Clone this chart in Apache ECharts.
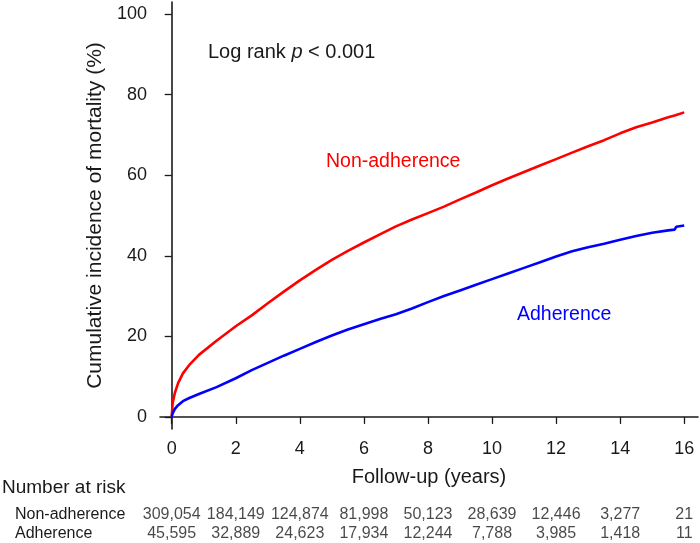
<!DOCTYPE html>
<html>
<head>
<meta charset="utf-8">
<script src="https://cdn.jsdelivr.net/npm/echarts@6/dist/echarts.min.js"></script>
<style>html,body{margin:0;padding:0;background:#fff}#c{width:700px;height:543px}</style>
</head>
<body>
<div id="c"></div>
<script>
// Follow-up time (years) at which the curves were read
const timeYears = [0, 0.03, 0.1, 0.2, 0.35, 0.55, 0.85, 1.4, 2, 2.5, 3, 3.5, 4, 4.5, 5, 5.5, 6, 6.5, 7, 7.5, 8, 8.5, 9, 9.5, 10, 10.5, 11, 11.5, 12, 12.5, 13, 13.5, 14, 14.5, 15, 15.5, 15.7, 15.75, 16];
// Cumulative incidence of mortality (%)
const nonAdherence = [0, 3.4, 6.0, 8.4, 10.8, 12.9, 15.4, 18.9, 22.5, 25.2, 28.2, 31.1, 33.9, 36.5, 39.0, 41.2, 43.3, 45.3, 47.3, 49.0, 50.6, 52.2, 54.0, 55.7, 57.5, 59.2, 60.8, 62.4, 64.0, 65.6, 67.2, 68.7, 70.4, 71.9, 73.1, 74.4, 74.8, 74.9, 75.6];
const adherence = [0, 0.9, 2.0, 2.9, 3.9, 4.7, 5.7, 7.4, 9.6, 11.6, 13.4, 15.2, 16.9, 18.6, 20.2, 21.7, 23.0, 24.3, 25.5, 26.9, 28.5, 30.0, 31.4, 32.8, 34.2, 35.6, 37.0, 38.4, 39.8, 41.1, 42.1, 43.0, 44.0, 44.9, 45.7, 46.3, 46.5, 47.2, 47.5];

// Axis ticks
const xTicks = [0, 2, 4, 6, 8, 10, 12, 14, 16];
const yTicks = [0, 20, 40, 60, 80, 100];

// Number at risk table
const riskGroups = ['Non-adherence', 'Adherence'];
const riskTimes = [0, 2, 4, 6, 8, 10, 12, 14, 16];
const riskNonAdherence = [309054, 184149, 124874, 81998, 50123, 28639, 12446, 3277, 21];
const riskAdherence = [45595, 32889, 24623, 17934, 12244, 7788, 3985, 1418, 11];

const FONT = '"Liberation Sans", Arial, Helvetica, sans-serif';
const TXT = '#1a1a1a';

const chart = echarts.init(document.getElementById('c'));
const pairs = (ys) => timeYears.map((t, i) => [t, ys[i]]);
const riskData = (arr, g) => riskTimes.map((t, i) => [t, g, arr[i]]);

chart.setOption({
  animation: false,
  textStyle: { fontFamily: FONT },
  grid: [
    { left: 160, right: 2, top: 2, bottom: 114, containLabel: false },
    { left: 160, right: 2, top: 505, height: 40, containLabel: false }
  ],
  xAxis: [
    {
      type: 'value', gridIndex: 0, min: -0.365, max: 16.43,
      splitLine: { show: false },
      axisLine: { show: true, lineStyle: { color: TXT, width: 1.6 } },
      axisTick: { show: true, length: 7, lineStyle: { color: TXT, width: 1.3 }, customValues: xTicks },
      axisLabel: { fontSize: 18, color: TXT, margin: 11, fontFamily: FONT, customValues: xTicks },
      name: 'Follow-up (years)', nameLocation: 'middle', nameGap: 38,
      nameTextStyle: { fontSize: 20, color: TXT, fontFamily: FONT }
    },
    {
      type: 'value', gridIndex: 1, min: -0.365, max: 16.43, show: false
    }
  ],
  yAxis: [
    {
      type: 'value', gridIndex: 0, min: -3, max: 103,
      splitLine: { show: false },
      axisLine: { show: true, lineStyle: { color: TXT, width: 1.6 } },
      axisTick: { show: true, length: 7, lineStyle: { color: TXT, width: 1.3 }, customValues: yTicks },
      axisLabel: { fontSize: 18, color: TXT, margin: 13, fontFamily: FONT, customValues: yTicks },
      name: 'Cumulative incidence of mortality (%)', nameLocation: 'middle', nameGap: 54,
      nameTextStyle: { fontSize: 21, color: TXT, fontFamily: FONT }
    },
    {
      type: 'category', gridIndex: 1, data: riskGroups, inverse: true,
      axisLine: { show: false }, axisTick: { show: false }, splitLine: { show: false },
      axisLabel: { fontSize: 16, color: TXT, align: 'left', margin: 145, interval: 0, hideOverlap: false, fontFamily: FONT }
    }
  ],
  series: [
    {
      name: 'Non-adherence', type: 'line', xAxisIndex: 0, yAxisIndex: 0,
      data: pairs(nonAdherence), showSymbol: false, symbol: 'none',
      lineStyle: { color: '#ff0000', width: 2.6 }, z: 3
    },
    {
      name: 'Adherence', type: 'line', xAxisIndex: 0, yAxisIndex: 0,
      data: pairs(adherence), showSymbol: false, symbol: 'none',
      lineStyle: { color: '#0000ff', width: 2.6 }, z: 3
    },
    {
      type: 'scatter', xAxisIndex: 1, yAxisIndex: 1, symbolSize: 0,
      data: riskData(riskNonAdherence, riskGroups[0]).concat(riskData(riskAdherence, riskGroups[1])),
      label: {
        show: true, position: 'inside', fontSize: 16, color: TXT, fontFamily: FONT,
        formatter: (p) => p.value[2].toLocaleString('en-US')
      },
      labelLayout: { hideOverlap: false },
      silent: true
    }
  ],
  graphic: [
    {
      type: 'text', left: 208, top: 42,
      style: {
        text: '{a|Log rank }{i|p}{a| < 0.001}',
        rich: {
          a: { fontSize: 20, fill: TXT, fontFamily: FONT },
          i: { fontSize: 20, fill: TXT, fontFamily: FONT, fontStyle: 'italic' }
        }
      }
    },
    {
      type: 'text', left: 326, top: 152,
      style: { text: 'Non-adherence', fontSize: 19.5, fill: '#ff0000', fontFamily: FONT }
    },
    {
      type: 'text', left: 517, top: 305,
      style: { text: 'Adherence', fontSize: 19.5, fill: '#0000ff', fontFamily: FONT }
    },
    {
      type: 'text', left: 2, top: 478,
      style: { text: 'Number at risk', fontSize: 19, fill: TXT, fontFamily: FONT }
    }
  ]
});
</script>
</body>
</html>
